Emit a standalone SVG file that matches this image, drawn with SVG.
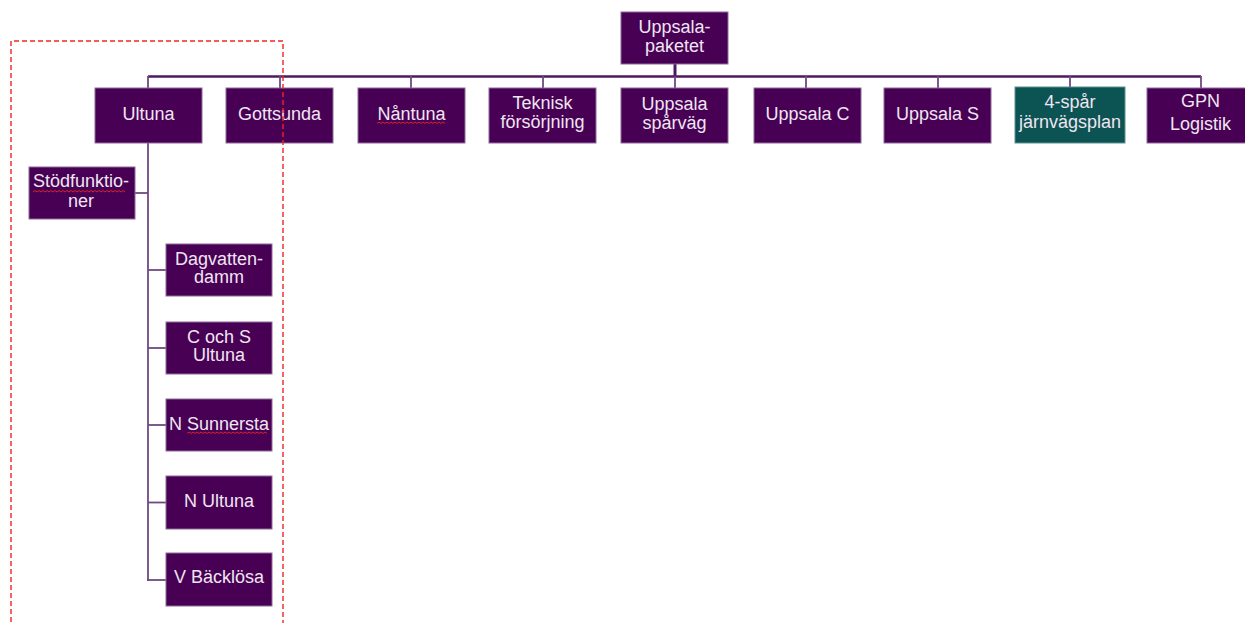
<svg xmlns="http://www.w3.org/2000/svg" width="1245" height="623" viewBox="0 0 1245 623">
  <style>
    .box { fill: #480055; stroke: #8C6A9A; stroke-width: 1; }
    .teal { fill: #0C5354; stroke: #5E8F90; stroke-width: 1; }
    .lbl { font-family: "Liberation Sans", Arial, sans-serif; font-size: 18px; fill: #EEE6F0; text-anchor: middle; }
    .conn { fill: none; stroke: #5A2A6A; stroke-width: 2; }
    .bar { fill: none; stroke: #4E1A5E; stroke-width: 2.5; }
    .tick { fill: none; stroke: #6E4A80; stroke-width: 1.8; }
    .spell { fill: none; stroke: #E0202A; stroke-width: 1; }
    .frame { fill: none; stroke: #F02424; stroke-width: 1.4; stroke-dasharray: 5 3; }
  </style>
  <rect width="1245" height="623" fill="#FFFFFF"/>

  <g id="connectors">
    <line class="bar" x1="675" y1="64" x2="675" y2="77" style="stroke-width:3"/>
    <line class="bar" x1="148" y1="76.5" x2="1201" y2="76.5"/>
    <line class="tick" x1="148" y1="76" x2="148" y2="88"/>
    <line class="tick" x1="280" y1="76" x2="280" y2="88"/>
    <line class="tick" x1="411" y1="76" x2="411" y2="88"/>
    <line class="tick" x1="543" y1="76" x2="543" y2="88"/>
    <line class="tick" x1="675" y1="76" x2="675" y2="88"/>
    <line class="tick" x1="806" y1="76" x2="806" y2="88"/>
    <line class="tick" x1="938" y1="76" x2="938" y2="88"/>
    <line class="tick" x1="1070" y1="76" x2="1070" y2="88"/>
    <line class="tick" x1="1201" y1="76" x2="1201" y2="88"/>
    <line class="tick" x1="148" y1="143" x2="148" y2="581"/>
    <line class="tick" x1="135" y1="193" x2="148" y2="193"/>
    <line class="tick" x1="148" y1="270" x2="166" y2="270"/>
    <line class="tick" x1="148" y1="348" x2="166" y2="348"/>
    <line class="tick" x1="148" y1="425" x2="166" y2="425"/>
    <line class="tick" x1="148" y1="502.5" x2="166" y2="502.5"/>
    <line class="tick" x1="147" y1="580" x2="166" y2="580"/>
  </g>

  <g id="root">
    <rect class="box" x="621" y="12" width="107" height="52"/>
    <text class="lbl" x="674.5" y="33">Uppsala-</text>
    <text class="lbl" x="674.5" y="52">paketet</text>
  </g>

  <g id="ultuna">
    <rect class="box" x="95" y="88" width="107" height="55"/>
    <text class="lbl" x="148.5" y="120">Ultuna</text>
  </g>
  <g id="gottsunda">
    <rect class="box" x="226" y="88" width="107" height="55"/>
    <text class="lbl" x="279.5" y="120">Gottsunda</text>
  </g>
  <g id="nantuna">
    <rect class="box" x="358" y="88" width="107" height="55"/>
    <text class="lbl" x="411.5" y="120">Nåntuna</text>
    <path class="spell" d="M377 123.5 l2 -1.5 l2 1.5 l2 -1.5 l2 1.5 l2 -1.5 l2 1.5 l2 -1.5 l2 1.5 l2 -1.5 l2 1.5 l2 -1.5 l2 1.5 l2 -1.5 l2 1.5 l2 -1.5 l2 1.5 l2 -1.5 l2 1.5 l2 -1.5 l2 1.5 l2 -1.5 l2 1.5 l2 -1.5 l2 1.5 l2 -1.5 l2 1.5 l2 -1.5 l2 1.5 l2 -1.5 l2 1.5 l2 -1.5 l2 1.5 l2 -1.5 l2 1.5"/>
  </g>
  <g id="teknisk">
    <rect class="box" x="489" y="88" width="107" height="55"/>
    <text class="lbl" x="542.5" y="109">Teknisk</text>
    <text class="lbl" x="542.5" y="128">försörjning</text>
  </g>
  <g id="sparvag">
    <rect class="box" x="621" y="88" width="107" height="55"/>
    <text class="lbl" x="674.5" y="110">Uppsala</text>
    <text class="lbl" x="674.5" y="129">spårväg</text>
  </g>
  <g id="uppsalac">
    <rect class="box" x="754" y="88" width="107" height="55"/>
    <text class="lbl" x="807.5" y="120">Uppsala C</text>
  </g>
  <g id="uppsalas">
    <rect class="box" x="884" y="88" width="107" height="55"/>
    <text class="lbl" x="937.5" y="120">Uppsala S</text>
  </g>
  <g id="fyrspar">
    <rect class="teal" x="1015" y="87" width="110" height="56"/>
    <text class="lbl" x="1070" y="108">4-spår</text>
    <text class="lbl" x="1070" y="128">järnvägsplan</text>
  </g>
  <g id="gpn">
    <rect class="box" x="1147" y="88" width="107" height="55"/>
    <text class="lbl" x="1200.5" y="107">GPN</text>
    <text class="lbl" x="1200.5" y="130">Logistik</text>
  </g>

  <g id="stodfunktioner">
    <rect class="box" x="29" y="167" width="106" height="52"/>
    <text class="lbl" x="81" y="187">Stödfunktio-</text>
    <text class="lbl" x="81" y="207">ner</text>
    <path class="spell" d="M33 192 l2 -1.5 l2 1.5 l2 -1.5 l2 1.5 l2 -1.5 l2 1.5 l2 -1.5 l2 1.5 l2 -1.5 l2 1.5 l2 -1.5 l2 1.5 l2 -1.5 l2 1.5 l2 -1.5 l2 1.5 l2 -1.5 l2 1.5 l2 -1.5 l2 1.5 l2 -1.5 l2 1.5 l2 -1.5 l2 1.5 l2 -1.5 l2 1.5 l2 -1.5 l2 1.5 l2 -1.5 l2 1.5 l2 -1.5 l2 1.5 l2 -1.5 l2 1.5 l2 -1.5 l2 1.5 l2 -1.5 l2 1.5 l2 -1.5 l2 1.5 l2 -1.5 l2 1.5 l2 -1.5 l2 1.5 l2 -1.5 l2 1.5"/>
  </g>
  <g id="dagvattendamm">
    <rect class="box" x="166" y="244" width="106" height="52"/>
    <text class="lbl" x="219" y="265">Dagvatten-</text>
    <text class="lbl" x="219" y="283">damm</text>
  </g>
  <g id="cochs">
    <rect class="box" x="166" y="322" width="106" height="52"/>
    <text class="lbl" x="219" y="343">C och S</text>
    <text class="lbl" x="219" y="361">Ultuna</text>
  </g>
  <g id="nsunnersta">
    <rect class="box" x="166" y="399" width="106" height="52"/>
    <text class="lbl" x="219" y="430">N Sunnersta</text>
    <path class="spell" d="M187 433.5 l2 -1.5 l2 1.5 l2 -1.5 l2 1.5 l2 -1.5 l2 1.5 l2 -1.5 l2 1.5 l2 -1.5 l2 1.5 l2 -1.5 l2 1.5 l2 -1.5 l2 1.5 l2 -1.5 l2 1.5 l2 -1.5 l2 1.5 l2 -1.5 l2 1.5 l2 -1.5 l2 1.5 l2 -1.5 l2 1.5 l2 -1.5 l2 1.5 l2 -1.5 l2 1.5 l2 -1.5 l2 1.5 l2 -1.5 l2 1.5 l2 -1.5 l2 1.5 l2 -1.5 l2 1.5 l2 -1.5 l2 1.5 l2 -1.5 l2 1.5"/>
  </g>
  <g id="nultuna">
    <rect class="box" x="166" y="476" width="106" height="53"/>
    <text class="lbl" x="219" y="507">N Ultuna</text>
  </g>
  <g id="vbacklosa">
    <rect class="box" x="166" y="553" width="106" height="53"/>
    <text class="lbl" x="219" y="583">V Bäcklösa</text>
  </g>

  <g id="highlight">
    <path class="frame" d="M11 630 V41 H283 V630"/>
  </g>
</svg>
